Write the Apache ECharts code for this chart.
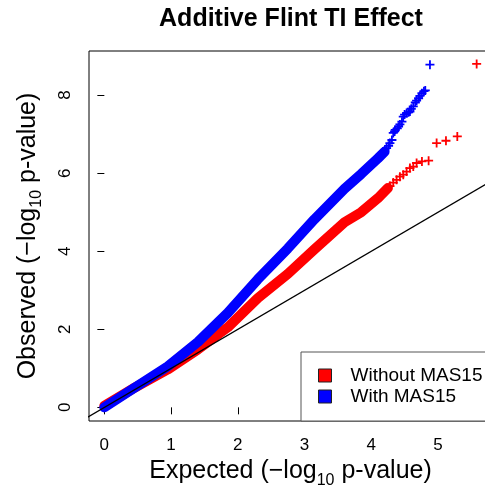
<!DOCTYPE html>
<html><head><meta charset="utf-8">
<script src="https://cdn.jsdelivr.net/npm/echarts@6/dist/echarts.min.js"></script>
<style>html,body{margin:0;padding:0;background:#fff}#c{width:485px;height:486px}</style>
</head><body><div id="c"></div>
<script>
// ---- data ----
const xTicks = [0, 1, 2, 3, 4, 5];
const yTicks = [0, 2, 4, 6, 8];
const seriesNames = ['Without MAS15', 'With MAS15'];

// dense part of the Q-Q band (expected, observed)
const withoutBand = [[0,0.04],[0.45,0.5],[0.95,0.97],[1.4,1.48],[1.85,2.05],[2.3,2.8],[2.75,3.42],[3.15,4.05],[3.6,4.74],[3.85,5.0],[4.1,5.36],[4.25,5.62]];
const withBand = [[0,0.0],[0.45,0.5],[0.95,1.05],[1.4,1.67],[1.85,2.42],[2.3,3.28],[2.75,4.07],[3.15,4.82],[3.6,5.6],[3.85,5.98],[4.1,6.38],[4.2,6.55]];

// sparse tail points
const withoutTail = [[4.23,5.62],[4.28,5.67],[4.33,5.76],[4.38,5.83],[4.43,5.91],[4.48,5.96],[4.53,6.04],[4.58,6.13],[4.63,6.17],[4.68,6.26],[4.76,6.30],[4.86,6.32],[4.98,6.77],[5.12,6.83],[5.29,6.94],[5.58,8.80]];
const withTail = [[4.05,6.3],[4.08,6.36],[4.13,6.43],[4.15,6.47],[4.18,6.51],[4.2,6.58],[4.23,6.64],[4.26,6.70],[4.28,6.77],[4.31,6.85],[4.33,7.03],[4.35,7.07],[4.36,7.11],[4.39,7.15],[4.41,7.19],[4.43,7.25],[4.46,7.32],[4.48,7.45],[4.5,7.5],[4.53,7.54],[4.56,7.56],[4.58,7.58],[4.6,7.65],[4.63,7.71],[4.66,7.81],[4.68,7.86],[4.71,7.92],[4.73,7.98],[4.76,8.05],[4.79,8.1],[4.81,8.12],[4.88,8.78]];

// reference line y = x
const refLine = [[-1,-1],[7,7]];

const colors = ['#ff0000', '#0000ff'];
const FONT = '"Liberation Sans", Arial, Helvetica, sans-serif';
const plusPath = 'path://M4,0h2v4h4v2h-4v4h-2v-4h-4v-2h4z';

const chart = echarts.init(document.getElementById('c'), null, {renderer: 'canvas'});
chart.setOption({
  animation: false,
  backgroundColor: '#fff',
  title: {
    text: 'Additive Flint TI Effect',
    left: 291, top: 7, padding: 0, textAlign: 'center',
    textStyle: {fontFamily: FONT, fontSize: 25, fontWeight: 'bold', color: '#000'}
  },
  grid: {left: 89, top: 51, width: 403, height: 370, show: true, borderColor: '#000', borderWidth: 1,
         backgroundColor: 'transparent', containLabel: false, outerBoundsMode: 'none'},
  xAxis: {
    type: 'value', min: -0.23, max: 5.81,
    axisLine: {show: false},
    splitLine: {show: false},
    axisTick: {show: true, length: 7, customValues: xTicks, lineStyle: {color: '#000', width: 1}},
    axisLabel: {customValues: xTicks, margin: 16, fontFamily: FONT, fontSize: 17, color: '#000'},
    name: 'Expected (\u2212log{sub|10} p-value)',
    nameLocation: 'middle', nameGap: 26,
    nameTextStyle: {fontFamily: FONT, fontSize: 25, color: '#000',
      rich: {sub: {fontFamily: FONT, fontSize: 16, color: '#000', padding: [18, 0, 0, 0]}}}
  },
  yAxis: {
    type: 'value', min: -0.35, max: 9.13,
    axisLine: {show: false},
    splitLine: {show: false},
    axisTick: {show: true, length: 7, customValues: yTicks, lineStyle: {color: '#000', width: 1}},
    axisLabel: {customValues: yTicks, rotate: 90, margin: 15, fontFamily: FONT, fontSize: 17, color: '#000'},
    name: 'Observed (\u2212log{sub|10} p-value)',
    nameLocation: 'middle', nameGap: 44, nameRotate: 90,
    nameTextStyle: {fontFamily: FONT, fontSize: 25, color: '#000',
      rich: {sub: {fontFamily: FONT, fontSize: 16, color: '#000', padding: [18, 0, 0, 0]}}}
  },
  legend: {
    orient: 'vertical', left: 301, top: 352,
    padding: [13, 60, 14, 17],
    itemWidth: 13, itemHeight: 13, itemGap: 0,
    borderColor: '#555', borderWidth: 1, backgroundColor: '#fff',
    textStyle: {fontFamily: FONT, fontSize: 19, color: '#000', lineHeight: 21, padding: [0, 0, 0, 14]},
    data: [
      {name: seriesNames[0], icon: 'rect', itemStyle: {color: colors[0], borderColor: '#222', borderWidth: 1}},
      {name: seriesNames[1], icon: 'rect', itemStyle: {color: colors[1], borderColor: '#222', borderWidth: 1}}
    ]
  },
  series: [
    {type: 'line', name: seriesNames[0], data: withoutBand, showSymbol: false, symbol: 'none', silent: true,
     itemStyle: {color: colors[0]}, lineStyle: {color: colors[0], width: 10, cap: 'round', join: 'round'}, z: 2},
    {type: 'scatter', name: seriesNames[0], data: withoutTail, symbol: plusPath, symbolSize: 9, silent: true,
     itemStyle: {color: colors[0], opacity: 1}, z: 2},
    {type: 'line', name: seriesNames[1], data: withBand, showSymbol: false, symbol: 'none', silent: true,
     itemStyle: {color: colors[1]}, lineStyle: {color: colors[1], width: 10, cap: 'round', join: 'round'}, z: 3},
    {type: 'scatter', name: seriesNames[1], data: withTail, symbol: plusPath, symbolSize: 9, silent: true,
     itemStyle: {color: colors[1], opacity: 1}, z: 3},
    {type: 'line', name: 'y = x', data: refLine, showSymbol: false, symbol: 'none', silent: true, clip: true,
     lineStyle: {color: '#000', width: 1.3}, z: 4}
  ]
});
</script>
</body></html>
